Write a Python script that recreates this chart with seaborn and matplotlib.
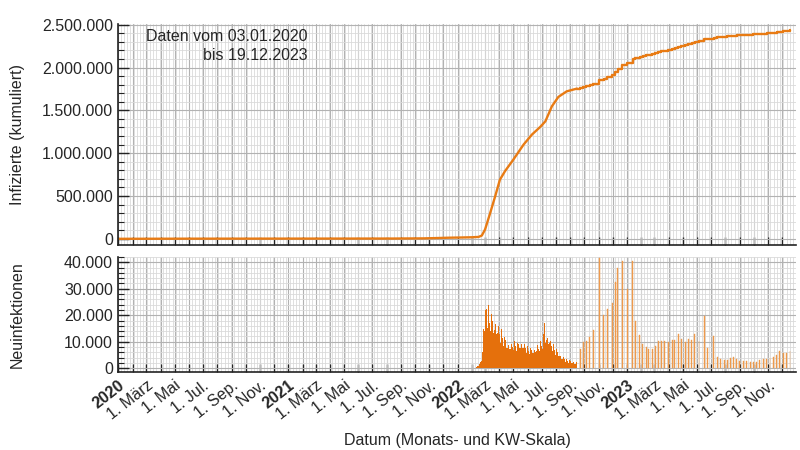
import numpy as np
import pandas as pd
import matplotlib
matplotlib.use('Agg')
import matplotlib.pyplot as plt
import matplotlib.dates as mdates
from matplotlib.ticker import MultipleLocator, FuncFormatter
import seaborn as sns

cum_dates = ['2020-01-03', '2020-06-01', '2020-12-31', '2021-06-30', '2021-08-15',
             '2021-09-15', '2021-10-20', '2021-11-15', '2021-12-15', '2022-01-06',
             '2022-02-01', '2022-02-15', '2022-02-22', '2022-03-01', '2022-03-12',
             '2022-03-23', '2022-04-02', '2022-04-13', '2022-05-01', '2022-05-23',
             '2022-06-10', '2022-06-28', '2022-07-09', '2022-07-23', '2022-08-06',
             '2022-08-24', '2022-09-15']
cum_values = [0, 1500, 2200, 2800, 2900,
              4000, 5000, 8500, 13000, 15000,
              18000, 22000, 38000, 108000, 300000,
              500000, 690000, 790000, 925000, 1100000,
              1217000, 1307000, 1372000, 1547000, 1657000,
              1722000, 1754000]

# tägliche Neuinfektionen ab 20.10.2021 bis 15.09.2022
daily_start = '2021-10-20'
daily_values = [
    60, 80, 100, 110, 80, 90, 110,
    80, 120, 130, 160, 150, 140, 130,
    100, 140, 150, 200, 190, 180, 200,
    180, 190, 200, 210, 200, 220, 200,
    210, 200, 190, 170, 180, 200, 220,
    210, 200, 190, 170, 180, 160, 170,
    150, 170, 160, 140, 130, 120, 110,
    100, 90, 95, 80, 70, 80, 70,
    70, 60, 65, 60, 50, 55, 60,
    50, 55, 50, 40, 30, 40, 50,
    50, 60, 55, 40, 30, 40, 45,
    40, 35, 40, 30, 40, 45, 50,
    40, 50, 60, 45, 50, 40, 60,
    70, 80, 90, 100, 110, 130, 120,
    140, 150, 160, 180, 200, 190, 210,
    230, 210, 240, 250, 230, 200, 220,
    300, 350, 400, 450, 650, 800, 900,
    1200, 1600, 1900, 2200, 2500, 2600, 2900,
    3300, 6000, 12000, 14900, 14600, 14100, 19500,
    22100, 23200, 22500, 18700, 15300, 19600, 23900,
    21000, 20100, 17100, 15500, 13900, 15800, 20600,
    18900, 17800, 14800, 13400, 12500, 14400, 19000,
    17100, 16800, 14300, 12900, 11300, 13200, 16700,
    15900, 14200, 13000, 11100, 9600, 11100, 14800,
    13200, 12400, 11300, 9600, 8300, 9800, 11900,
    11100, 10500, 8900, 7600, 6900, 7800, 10200,
    9400, 8800, 7700, 7200, 6600, 7400, 9600,
    9100, 8400, 7900, 7200, 6800, 7800, 10100,
    9300, 8900, 8200, 7400, 6500, 7300, 9400,
    9700, 9000, 8300, 7500, 6900, 7700, 11200,
    9800, 9200, 8200, 7600, 6800, 7500, 9700,
    9000, 8100, 7700, 6600, 5900, 6400, 8400,
    7800, 7300, 6500, 5800, 5200, 5700, 7500,
    7200, 6900, 6200, 5600, 5100, 5800, 7600,
    7600, 7000, 6600, 6000, 5500, 6400, 8600,
    8900, 8200, 7400, 6800, 6300, 7600, 10400,
    9800, 9100, 8400, 7800, 7200, 9700, 12900,
    11800, 16900, 10800, 9500, 8400, 10500, 14200,
    12100, 11500, 10200, 9100, 8200, 9600, 11800,
    10200, 9600, 8500, 7300, 6500, 7400, 9100,
    8300, 7700, 6900, 5900, 5100, 5800, 7400,
    6600, 6100, 5400, 4500, 3900, 4500, 5800,
    5200, 4700, 4200, 3600, 3100, 3500, 4600,
    4100, 3800, 3400, 2900, 2500, 2800, 3700,
    3400, 3200, 2800, 2300, 2000, 2200, 3000,
    2800, 2600, 2300, 1900, 1700, 1900, 2700,
    2500, 2300, 2100, 1700, 1500, 1700, 2500,
    2300, 2100,
]

# danach (ungefähr) wöchentliche Meldungen
weekly_dates = ['2022-09-22', '2022-09-29', '2022-10-05', '2022-10-13', '2022-10-20',
                '2022-11-02', '2022-11-12', '2022-11-19', '2022-11-30', '2022-12-07',
                '2022-12-12', '2022-12-22', '2023-01-01', '2023-01-13', '2023-01-19',
                '2023-01-28', '2023-02-04', '2023-02-11', '2023-02-17', '2023-02-24',
                '2023-03-03', '2023-03-09', '2023-03-16', '2023-03-23', '2023-03-31',
                '2023-04-08', '2023-04-14', '2023-04-21', '2023-04-28', '2023-05-06',
                '2023-05-13', '2023-05-20', '2023-05-27', '2023-06-05', '2023-06-16',
                '2023-06-23', '2023-07-07', '2023-07-14', '2023-07-22', '2023-07-29',
                '2023-08-05', '2023-08-12', '2023-08-18', '2023-08-25', '2023-09-01',
                '2023-09-09', '2023-09-16', '2023-09-23', '2023-09-30', '2023-10-07',
                '2023-10-14', '2023-10-22', '2023-10-29', '2023-11-05', '2023-11-12',
                '2023-11-19', '2023-11-26', '2023-12-04', '2023-12-11', '2023-12-18']
weekly_values = [7400, 9900, 10300, 11800, 14500, 41500, 19900, 22200, 24800, 32400,
                 37800, 40400, 29800, 40400, 17800, 12700, 9100, 7900, 7300, 7300,
                 8200, 10100, 10400, 10100, 9900, 10800, 10800, 12900, 11200, 9900,
                 11200, 10800, 12900, 10400, 19700, 7600, 12000, 4400, 3600, 3200,
                 3200, 3900, 4400, 3600, 2800, 2800, 2800, 2500, 2300, 2300,
                 3000, 3600, 3600, 3900, 4400, 5100, 6300, 5900, 5900, 6300]

month_names = {3: '1. März', 5: '1. Mai', 7: '1. Jul.', 9: '1. Sep.', 11: '1. Nov.'}

orange = '#e5700c'

sns.set_theme(style='white')
plt.rcParams['font.family'] = ['Liberation Sans', 'DejaVu Sans']
plt.rcParams['font.size'] = 11.5

fig = plt.figure(figsize=(8, 4.5), dpi=100)
ax1 = fig.add_axes([0.148, 0.456, 0.847, 0.491])
ax2 = fig.add_axes([0.148, 0.173, 0.847, 0.256])

# oberes Diagramm: kumuliert
cum_df = pd.DataFrame({'Datum': pd.to_datetime(cum_dates), 'Infizierte': cum_values})
sns.lineplot(data=cum_df, x='Datum', y='Infizierte', ax=ax1, color='#e87b14', lw=1.7)

step_df = pd.DataFrame({
    'Datum': pd.to_datetime([cum_dates[-1]] + weekly_dates),
    'Infizierte': cum_values[-1] + np.cumsum([0] + weekly_values),
})
sns.lineplot(data=step_df, x='Datum', y='Infizierte', ax=ax1, color='#e87b14', lw=1.7,
             drawstyle='steps-post')

# unteres Diagramm: Neuinfektionen
daily_dates = pd.date_range(daily_start, periods=len(daily_values), freq='D')
ax2.bar(daily_dates, daily_values, width=1.0, color=orange, linewidth=0)
ax2.bar(pd.to_datetime(weekly_dates), weekly_values, width=2.0, color='#ee9a4c',
        edgecolor='#ee9a4c', linewidth=0.3)

fmt = FuncFormatter(lambda v, p: f'{v:,.0f}'.replace(',', '.'))

for ax in (ax1, ax2):
    ax.set_xlim(pd.Timestamp('2020-01-01'), pd.Timestamp('2023-12-31'))
    ax.xaxis.set_major_locator(mdates.MonthLocator())
    ax.xaxis.set_minor_locator(mdates.WeekdayLocator(byweekday=mdates.MO))
    ax.grid(which='major', axis='both', color='#b2b2b2', lw=0.8)
    ax.grid(which='minor', axis='both', color='#dadada', lw=0.6)
    ax.set_axisbelow(True)
    ax.tick_params(axis='x', which='major', direction='in', length=6, width=1,
                   color='#222222', bottom=True)
    ax.tick_params(axis='x', which='minor', length=0)
    ax.tick_params(axis='y', which='major', direction='in', length=8, width=1,
                   color='#222222', left=True, labelsize=11.5, pad=4)
    ax.tick_params(axis='y', which='minor', direction='in', length=4, width=0.8,
                   color='#222222', left=True)
    ax.yaxis.set_major_formatter(fmt)
    for s in ('top', 'right'):
        ax.spines[s].set_visible(False)
    for s in ('left', 'bottom'):
        ax.spines[s].set_color('#222222')
        ax.spines[s].set_linewidth(1.2)
    ax.set_xlabel('')

ax1.set_ylim(-70000, 2510000)
ax1.yaxis.set_major_locator(MultipleLocator(500000))
ax1.yaxis.set_minor_locator(MultipleLocator(100000))
ax1.tick_params(labelbottom=False)
ax1.set_ylabel('Infizierte (kumuliert)', fontsize=11.5)
ax1.yaxis.set_label_coords(-0.138, 0.5)
ax1.text(0.279, 0.975, 'Daten vom 03.01.2020\nbis 19.12.2023', transform=ax1.transAxes,
         ha='right', va='top', fontsize=11.5, linespacing=1.3)

ax2.set_ylim(-1500, 42000)
ax2.yaxis.set_major_locator(MultipleLocator(10000))
ax2.yaxis.set_minor_locator(MultipleLocator(2000))
ax2.set_ylabel('Neuinfektionen', fontsize=11.5)
ax2.yaxis.set_label_coords(-0.138, 0.5)

month_ticks = pd.date_range('2020-01-01', '2023-12-01', freq='MS')
labels = []
for m in month_ticks:
    if m.month == 1:
        labels.append(str(m.year))
    else:
        labels.append(month_names.get(m.month, ''))
ax2.set_xticks(month_ticks)
ax2.set_xticklabels(labels)
for lbl, m in zip(ax2.get_xticklabels(), month_ticks):
    lbl.set_rotation(38)
    lbl.set_ha('right')
    lbl.set_rotation_mode('anchor')
    lbl.set_fontsize(11.5)
    if m.month == 1:
        lbl.set_fontweight('bold')
ax2.tick_params(axis='x', which='major', pad=4)
ax2.set_xlabel('Datum (Monats- und KW-Skala)', fontsize=11.5, labelpad=8)

fig.savefig('out.png', dpi=100)
